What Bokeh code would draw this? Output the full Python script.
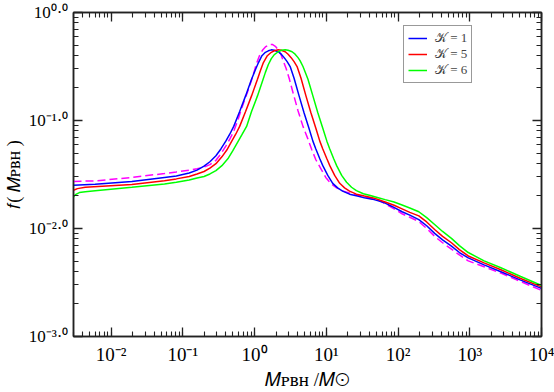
from bokeh.plotting import figure
from bokeh.models import (LogAxis, LogTicker, CustomJSTickFormatter, Legend, LegendItem, Range1d)
from bokeh.embed import file_html
from bokeh.resources import INLINE

# ---------------- data ----------------
x_k1 = [0.003, 0.00601, 0.0195, 0.0556, 0.0813, 0.123, 0.158, 0.198, 0.239, 0.290,
        0.340, 0.398, 0.452, 0.513, 0.621, 0.751, 0.909, 1.032, 1.136, 1.269,
        1.418, 1.56, 1.715, 1.888, 2.14, 2.36, 2.59, 2.85, 3.14, 3.56,
        4.18, 4.90, 5.74, 6.51, 7.16, 8.13, 8.95, 10.5, 12.3, 14.4,
        16.9, 21.1, 27.2, 34.0, 43.8, 54.7, 66.2, 82.7, 114, 146,
        195, 251, 324, 418, 556, 717, 953, 1585, 2716, 5129, 10000]
y_k1 = [0.0251, 0.0257, 0.0273, 0.0297, 0.0306, 0.0326, 0.0347, 0.0378, 0.0415, 0.0471,
        0.0545, 0.0644, 0.0746, 0.0882, 0.121, 0.169, 0.241, 0.297, 0.344, 0.398,
        0.428, 0.442, 0.451, 0.447, 0.433, 0.411, 0.382, 0.351, 0.316, 0.246,
        0.169, 0.118, 0.0846, 0.0644, 0.0545, 0.0442, 0.0382, 0.0310, 0.0262, 0.0238,
        0.0222, 0.0208, 0.0200, 0.0193, 0.0187, 0.0180, 0.0172, 0.0160, 0.0143, 0.0133,
        0.0121, 0.0106, 0.00901, 0.00786, 0.00686, 0.00599, 0.00534, 0.00461, 0.00398, 0.00333, 0.00279]

x_k5 = [0.003, 0.00340, 0.00438, 0.0195, 0.0556, 0.0813, 0.123, 0.158, 0.198, 0.239,
        0.290, 0.351, 0.411, 0.482, 0.547, 0.621, 0.751, 0.909, 1.10, 1.21,
        1.33, 1.51, 1.715, 1.888, 2.14, 2.36, 2.68, 2.94, 3.24, 3.56,
        3.92, 4.45, 5.21, 6.11, 7.16, 8.13, 8.95, 10.2, 11.2, 13.1,
        15.4, 18.0, 21.1, 26.3, 34.0, 46.7, 66.2, 88.1, 114, 146,
        195, 251, 324, 418, 556, 717, 953, 1585, 2716, 5129, 10000]
y_k5 = [0.0226, 0.0234, 0.0241, 0.0255, 0.0277, 0.0288, 0.0303, 0.0320, 0.0337, 0.0362,
        0.0398, 0.0461, 0.0533, 0.0644, 0.0746, 0.0882, 0.121, 0.169, 0.241, 0.291,
        0.344, 0.398, 0.428, 0.442, 0.451, 0.447, 0.433, 0.411, 0.382, 0.351,
        0.316, 0.246, 0.169, 0.118, 0.0846, 0.0644, 0.0545, 0.0442, 0.0382, 0.0310,
        0.0262, 0.0238, 0.0222, 0.0208, 0.0200, 0.0191, 0.0176, 0.0164, 0.0152, 0.0141,
        0.0131, 0.0115, 0.00980, 0.00846, 0.00738, 0.00637, 0.00557, 0.00481, 0.00415, 0.00344, 0.00288]

x_k6 = [0.003, 0.00319, 0.00362, 0.00438, 0.00601, 0.0195, 0.0556, 0.0813, 0.123, 0.158,
        0.198, 0.239, 0.290, 0.351, 0.425, 0.497, 0.583, 0.662, 0.776, 0.909,
        1.10, 1.29, 1.418, 1.56, 1.715, 1.888, 2.14, 2.36, 2.68, 2.94,
        3.34, 3.68, 4.04, 4.31, 4.74, 5.56, 6.51, 7.63, 8.95, 10.2,
        11.2, 12.7, 13.96, 16.4, 19.2, 22.5, 26.3, 32.9, 41.1, 53.0,
        66.2, 88.1, 114, 146, 195, 251, 324, 418, 556, 717,
        953, 1585, 2716, 5129, 10000]
y_k6 = [0.0195, 0.0206, 0.0215, 0.0219, 0.0224, 0.0241, 0.0258, 0.0268, 0.0281, 0.0294,
        0.0303, 0.0320, 0.0344, 0.0382, 0.0442, 0.0523, 0.0631, 0.0731, 0.0882, 0.121,
        0.169, 0.231, 0.279, 0.330, 0.374, 0.407, 0.433, 0.447, 0.451, 0.447,
        0.433, 0.411, 0.382, 0.358, 0.316, 0.241, 0.169, 0.118, 0.0846, 0.0644,
        0.0545, 0.0442, 0.0382, 0.0310, 0.0268, 0.0241, 0.0224, 0.0210, 0.0202, 0.0193,
        0.0185, 0.0176, 0.0165, 0.0155, 0.0143, 0.0126, 0.0109, 0.00939, 0.00811, 0.00694,
        0.00599, 0.00501, 0.00433, 0.00359, 0.00297]

x_dash = [0.003, 0.00601, 0.0195, 0.0556, 0.0813, 0.123, 0.158, 0.198, 0.239, 0.290,
          0.340, 0.398, 0.452, 0.513, 0.583, 0.662, 0.728, 0.800, 0.909, 1.0,
          1.066, 1.172, 1.29, 1.418, 1.61, 1.77, 1.95, 2.14, 2.36, 2.51,
          2.76, 3.04, 3.45, 4.04, 4.74, 5.56, 6.31, 7.16, 8.40, 9.84,
          11.5, 13.96, 17.4, 23.2, 31.9, 43.8, 54.7, 66.2, 88.1, 114,
          146, 195, 251, 324, 418, 556, 717, 953, 1585, 2716, 5129, 10000]
y_dash = [0.0273, 0.0276, 0.0297, 0.0323, 0.0334, 0.0347, 0.0358, 0.0370, 0.0390, 0.0428,
          0.0491, 0.0580, 0.0672, 0.0794, 0.100, 0.129, 0.155, 0.184, 0.236, 0.291,
          0.337, 0.398, 0.447, 0.480, 0.506, 0.506, 0.486, 0.451, 0.402, 0.358,
          0.303, 0.246, 0.180, 0.123, 0.0882, 0.0672, 0.0533, 0.0433, 0.0358, 0.0297,
          0.0262, 0.0238, 0.0222, 0.0208, 0.0200, 0.0189, 0.0182, 0.0169, 0.0152, 0.0137,
          0.0127, 0.0116, 0.0100, 0.00846, 0.00738, 0.00644, 0.00569, 0.00501, 0.00442, 0.00386,
          0.00323, 0.00267]

legend_labels = ["\U0001D4A6 = 1", "\U0001D4A6 = 5", "\U0001D4A6 = 6"]

x_tick_vals = [1e-2, 1e-1, 1e0, 1e1, 1e2, 1e3, 1e4]
x_tick_labels = ["10\u207b\u00b2", "10\u207b\u00b9", "10\u2070", "10\u00b9",
                 "10\u00b2", "10\u00b3", "10\u2074"]
y_tick_vals = [1.0, 0.1, 0.01, 0.001]
y_tick_labels = ["10\u2070\u00b7\u2070", "10\u207b\u00b9\u00b7\u2070",
                 "10\u207b\u00b2\u00b7\u2070", "10\u207b\u00b3\u00b7\u2070"]

x_title = "\U0001D440\u1d18\u0299\u029c /\U0001D440\u2299"
y_title = "\U0001D453( \U0001D440\u1d18\u0299\u029c )"

X_LO, X_HI = 3e-3, 1e4
Y_LO, Y_HI = 1e-3, 1.0

SERIF = "Liberation Serif"
AX = "#222222"

# ---------------- figure ----------------
p = figure(width=554, height=392, x_axis_type="log", y_axis_type="log",
           x_range=Range1d(X_LO, X_HI), y_range=Range1d(Y_LO, Y_HI),
           output_backend="svg", toolbar_location=None,
           min_border_left=68, min_border_right=13, min_border_top=12, min_border_bottom=50)
p.grid.visible = False
p.outline_line_color = AX
p.outline_line_width = 1.5
p.background_fill_color = "white"
p.border_fill_color = "white"

FMT_CODE = """
for (let i = 0; i < vals.length; i++) {
  if (Math.abs(Math.log10(tick) - Math.log10(vals[i])) < 1e-6) return labels[i];
}
return "";
"""


def style_ticks(ax):
    ax.ticker = LogTicker(num_minor_ticks=10)
    ax.major_tick_in = 9
    ax.major_tick_out = 0
    ax.minor_tick_in = 5
    ax.minor_tick_out = 0
    ax.axis_line_color = AX
    ax.axis_line_width = 1.5
    ax.major_tick_line_color = AX
    ax.major_tick_line_width = 1.3
    ax.minor_tick_line_color = AX
    ax.minor_tick_line_width = 1.1


def hide_labels(ax):
    ax.major_label_text_font_size = "1px"
    ax.major_label_text_alpha = 0.0
    ax.major_label_standoff = 0


xa = p.xaxis[0]
style_ticks(xa)
xa.formatter = CustomJSTickFormatter(args=dict(vals=x_tick_vals, labels=x_tick_labels), code=FMT_CODE)
xa.major_label_text_font = SERIF
xa.major_label_text_font_size = "19px"
xa.major_label_text_color = "black"
xa.major_label_standoff = 7
xa.axis_label = x_title
xa.axis_label_text_font = SERIF
xa.axis_label_text_font_size = "19px"
xa.axis_label_text_font_style = "normal"
xa.axis_label_text_color = "black"
xa.axis_label_standoff = 1

ya = p.yaxis[0]
style_ticks(ya)
ya.formatter = CustomJSTickFormatter(args=dict(vals=y_tick_vals, labels=y_tick_labels), code=FMT_CODE)
ya.major_label_text_font = SERIF
ya.major_label_text_font_size = "17px"
ya.major_label_text_color = "black"
ya.major_label_standoff = 5
ya.axis_label = y_title
ya.axis_label_text_font = SERIF
ya.axis_label_text_font_size = "18px"
ya.axis_label_text_font_style = "normal"
ya.axis_label_text_color = "black"
ya.axis_label_standoff = 2

top_ax = LogAxis()
right_ax = LogAxis()
for ax in (top_ax, right_ax):
    style_ticks(ax)
    hide_labels(ax)
p.add_layout(top_ax, "above")
p.add_layout(right_ax, "right")

# ---------------- curves ----------------
r_dash = p.line(x_dash, y_dash, line_color="#ff00ff", line_width=1.5, line_dash="8 4")
r1 = p.line(x_k1, y_k1, line_color="#0000ff", line_width=1.5)
r5 = p.line(x_k5, y_k5, line_color="#ff0000", line_width=1.5)
r6 = p.line(x_k6, y_k6, line_color="#00ff00", line_width=1.5)

legend = Legend(items=[LegendItem(label=legend_labels[0], renderers=[r1]),
                       LegendItem(label=legend_labels[1], renderers=[r5]),
                       LegendItem(label=legend_labels[2], renderers=[r6])],
                location=(330, 253))
legend.glyph_width = 19
legend.glyph_height = 12
legend.label_height = 12
legend.spacing = 0
legend.padding = 4
legend.margin = 0
legend.label_standoff = 8
legend.border_line_color = "#333333"
legend.border_line_width = 1.5
legend.background_fill_alpha = 1.0
legend.label_text_font = SERIF
legend.label_text_font_size = "13px"
p.add_layout(legend)

open("out.html", "w").write(file_html(p, INLINE))
